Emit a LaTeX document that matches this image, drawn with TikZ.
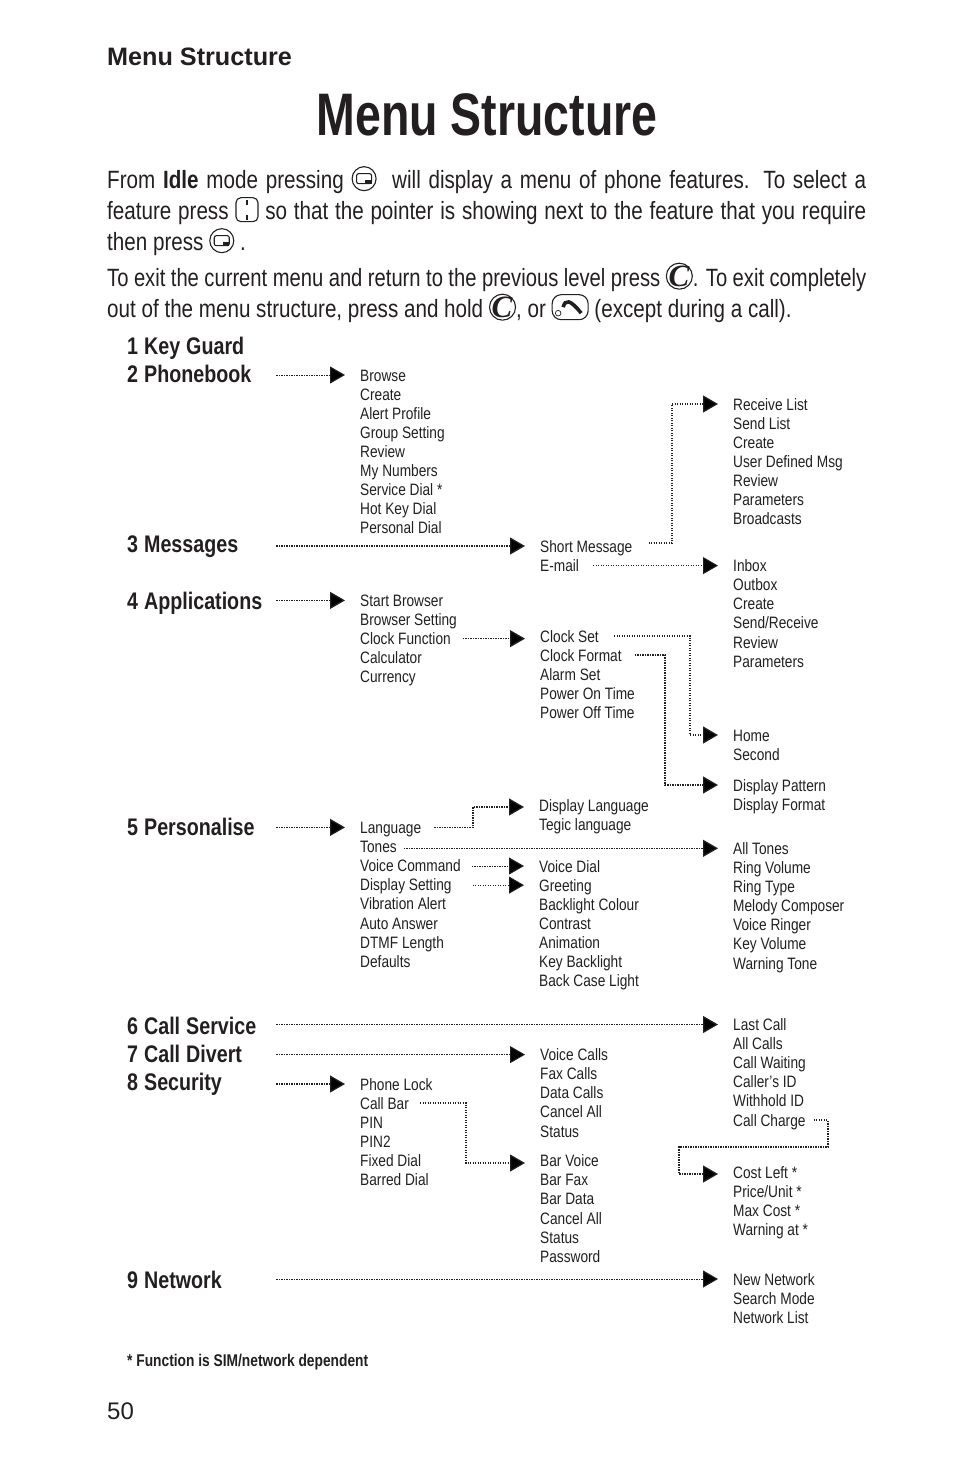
\documentclass[tikz,border=0pt]{standalone}
\usepackage{fontspec}
\setmainfont{Liberation Sans}
\newfontfamily\bodyfont[FakeStretch=0.825]{Liberation Sans}
\newfontfamily\tightfont[FakeStretch=0.808]{Liberation Sans}
\newfontfamily\itemfont[FakeStretch=0.83]{Liberation Sans}
\newfontfamily\headfont[FakeStretch=0.82]{Liberation Sans}
\newfontfamily\notefont[FakeStretch=0.81]{Liberation Sans}
\newfontfamily\bigfont[FakeStretch=0.775]{Liberation Sans}
\newfontfamily\keyfont{Liberation Serif}
\usetikzlibrary{arrows.meta,positioning}
\definecolor{ink}{RGB}{35,31,32}
\tikzset{
  menuitem/.style={anchor=west,inner sep=0pt,text=ink,text height=12pt,text depth=0pt,
    font=\itemfont\fontsize{16.5}{19}\selectfont},
  menuhead/.style={anchor=west,inner sep=0pt,text=ink,text height=17pt,text depth=0pt,
    minimum width=149pt,align=left,text width=149pt,
    font=\headfont\bfseries\fontsize{24}{28}\selectfont,
    execute at begin node={\spaceskip=6pt\relax}},
  paraline/.style={anchor=west,inner sep=0pt,text=ink,text width=759pt,align=justify},
  link/.style={draw=ink,line width=1pt,dash pattern=on 1.2pt off 1.3pt,
    -{Triangle[length=15pt,width=17pt]},shorten >=15pt},
  heavylink/.style={link,line width=1.3pt},
}
% one column of the menu, one node per line
\newcommand{\menucol}[4]{
  \foreach \t [count=\i] in {#4}
    \node[menuitem] (#1\i) at (#2,{#3+19.12*(\i-1)}) {\t};
}
% keys in the running text
\newcommand{\softkey}{\tikz[x=1pt,y=1pt,baseline=-10pt,line width=1.1pt,ink]{
  \draw (0,0) circle (12);
  \draw[rounded corners=2] (-7.5,-5) rectangle (7.5,5);
  \fill (1,-5) rectangle (7.5,-1);}}
\newcommand{\navkey}{\tikz[x=1pt,y=1pt,baseline=-10pt,line width=1.1pt,ink]{
  \draw[rounded corners=5] (-11,-12) rectangle (11,12);
  \fill (-1,5) rectangle (1,10);
  \fill (-1,-10) rectangle (1,-5);}}
\newcommand{\clearkey}{\tikz[x=1pt,y=1pt,baseline=-10pt,line width=1.1pt,ink]{
  \draw (0,0) circle (13);
  \node[anchor=center,inner sep=0pt,ink] at (-0.5,0) {\keyfont\bfseries\itshape\fontsize{31}{31}\selectfont C};}}
\newcommand{\hangkey}{\tikz[x=1pt,y=1pt,baseline=-10pt,line width=1.1pt,ink]{
  \draw[rounded corners=9] (-18,-12.5) rectangle (18,12.5);
  \draw[line width=3.6pt] (-7,0) .. controls (-5,8) and (0,8) .. (11,-6);
  \draw[line width=0.7pt] (-12,-6) circle (2.8);}}
\begin{document}
\begin{tikzpicture}[x=1pt,y=-1pt]
  \useasboundingbox (0,0) rectangle (954,1474);
  \node[anchor=west,inner sep=0pt,text=ink,font=\bfseries\fontsize{25.2}{30}\selectfont] (top) at (107,57) {Menu Structure};
  \node[inner sep=0pt,text=ink,font=\bigfont\bfseries\fontsize{60}{70}\selectfont] (title) at (487,115) {Menu Structure};
  % the paragraphs
  \node[paraline,font=\bodyfont\fontsize{25}{31}\selectfont] (para1) at (107,211) {%
    From {\bfseries Idle} mode pressing \softkey{}\ \ will display a menu of phone features. To select a\linebreak
    feature press \navkey{} so that the pointer is showing next to the feature that you require\linebreak
    then press \softkey{} .};
  \node[paraline,font=\tightfont\fontsize{25}{31}\selectfont] (para2) at (107,277) {%
    To exit the current menu and return to the previous level press \clearkey{}. To exit completely};
  \node[paraline,font=\bodyfont\fontsize{25}{31}\selectfont] (para3) at (107,308) {%
    out of the menu structure, press and hold \clearkey{}, or \hangkey{} (except during a call).};
  % top level
  \node[menuhead] (h1) at (127,346) {1 Key Guard};
  \node[menuhead] (h2) at (127,374) {2 Phonebook};
  \node[menuhead] (h3) at (127,544) {3 Messages};
  \node[menuhead] (h4) at (127,601) {4 Applications};
  \node[menuhead] (h5) at (127,827) {5 Personalise};
  \node[menuhead] (h6) at (127,1026) {6 Call Service};
  \node[menuhead] (h7) at (127,1054) {7 Call Divert};
  \node[menuhead] (h8) at (127,1082) {8 Security};
  \node[menuhead] (h9) at (127,1280) {9 Network};
  % second level
  \menucol{pb}{360}{375}{Browse,Create,Alert Profile,Group Setting,Review,My Numbers,Service Dial *,Hot Key Dial,Personal Dial}
  \menucol{ap}{360}{600.4}{Start Browser,Browser Setting,Clock Function,Calculator,Currency}
  \menucol{pe}{360}{827.4}{Language,Tones,Voice Command,Display Setting,Vibration Alert,Auto Answer,DTMF Length,Defaults}
  \menucol{se}{360}{1084}{Phone Lock,Call Bar,PIN,PIN2,Fixed Dial,Barred Dial}
  % third level
  \menucol{ms}{540}{546}{Short Message,E-mail}
  \menucol{cl}{540}{636}{Clock Set,Clock Format,Alarm Set,Power On Time,Power Off Time}
  \menucol{dl}{539}{805.4}{Display Language,Tegic language}
  \menucol{di}{539}{866}{Voice Dial,Greeting,Backlight Colour,Contrast,Animation,Key Backlight,Back Case Light}
  \menucol{cd}{540}{1054.6}{Voice Calls,Fax Calls,Data Calls,Cancel All,Status}
  \menucol{br}{540}{1160.7}{Bar Voice,Bar Fax,Bar Data,Cancel All,Status,Password}
  % fourth level
  \menucol{rl}{733}{404}{Receive List,Send List,Create,User Defined Msg,Review,Parameters,Broadcasts}
  \menucol{em}{733}{565.6}{Inbox,Outbox,Create,Send/Receive,Review,Parameters}
  \menucol{hm}{733}{735}{Home,Second}
  \menucol{dp}{733}{785}{Display Pattern,Display Format}
  \menucol{to}{733}{848.3}{All Tones,Ring Volume,Ring Type,Melody Composer,Voice Ringer,Key Volume,Warning Tone}
  \menucol{lc}{733}{1024.5}{Last Call,All Calls,Call Waiting,Caller’s ID,Withhold ID,Call Charge}
  \menucol{co}{733}{1172}{Cost Left *,Price/Unit *,Max Cost *,Warning at *}
  \menucol{nw}{733}{1279}{New Network,Search Mode,Network List}
  % links from the top level
  \draw[link] (h2.east |- pb1.west) -- (pb1.west);
  \draw[heavylink] (h3.east |- ms1.west) -- (ms1.west);
  \draw[heavylink] (h4.east |- ap1.west) -- (ap1.west);
  \draw[heavylink] (h5.east |- pe1.west) -- (pe1.west);
  \draw[heavylink] (h6.east |- lc1.west) -- (lc1.west);
  \draw[link] (h7.east |- cd1.west) -- (cd1.west);
  \draw[heavylink] (h8.east |- se1.west) -- (se1.west);
  \draw[link] (h9.east |- nw1.west) -- (nw1.west);
  % links between the columns
  \draw[heavylink,shorten <=16pt] ([yshift=3pt]ms1.east) -| (672,404) -- (rl1.west);
  \draw[link,shorten <=14pt] (ms2.east |- em1.west) -- (em1.west);
  \draw[heavylink,shorten <=12pt] (ap3.east) -- (ap3.east -| cl1.west);
  \draw[heavylink,shorten <=15pt] (cl1.east) -| (690,735) -- (hm1.west);
  \draw[heavylink,shorten <=13pt] (cl2.east) -| (665,785) -- (dp1.west);
  \draw[heavylink,shorten <=13pt] (pe1.east) -| (473,807) -- (dl1.west |- 0,807);
  \draw[heavylink,shorten <=7pt] (pe2.east |- to1.west) -- (to1.west);
  \draw[link,shorten <=11pt] (pe3.east |- di1.west) -- (di1.west);
  \draw[link,shorten <=21pt] (pe4.east |- di2.west) -- (di2.west);
  \draw[heavylink,shorten <=11pt] (se2.east) -| (466,1163) -- (br1.west |- 0,1163);
  \draw[heavylink,shorten <=8pt] (lc6.east) -| (828,1147) -| (679,1174) -- (co1.west |- 0,1174);
  \node[anchor=west,inner sep=0pt,text=ink,font=\notefont\bfseries\fontsize{17}{20}\selectfont] (note) at (127,1362) {* Function is SIM/network dependent};
  \node[anchor=west,inner sep=0pt,text=ink,font=\fontsize{24}{28}\selectfont] (page) at (107,1411) {50};
\end{tikzpicture}
\end{document}
